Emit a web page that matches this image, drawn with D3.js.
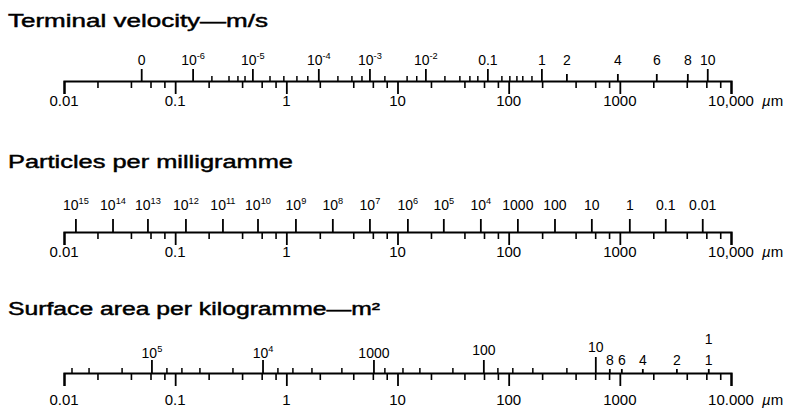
<!DOCTYPE html>
<html>
<head>
<meta charset="utf-8">
<script src="https://cdn.jsdelivr.net/npm/d3@7"></script>
<style>
  body { margin: 0; background: white; }
  text { font-family: "Liberation Sans", Arial, Helvetica, sans-serif; fill: #000; }
</style>
</head>
<body>
<div id="chart"></div>
<script>
// Particle size scale (µm), shared by all three nomograms
const sizeMajor = [0.01, 0.1, 1, 10, 100, 1000, 10000];
const sizeMajorLabels = ["0.01", "0.1", "1", "10", "100", "1000", "10,000"];
const sizeMinor = [0.02, 0.04, 0.06, 0.08, 0.2, 0.4, 0.6, 0.8, 2, 4, 6, 8,
                   20, 40, 60, 80, 200, 400, 600, 800, 2000, 4000, 6000, 8000];

// Terminal velocity (m/s): label and the particle size (µm) it sits at
const velLabels = ["0", "10^-6", "10^-5", "10^-4", "10^-3", "10^-2", "0.1", "1", "2", "4", "6", "8", "10"];
const velAt = [0.050, 0.145, 0.50, 1.96, 5.65, 18.0, 65, 199, 334, 960, 2150, 4090, 6180];
const velMinorAt = [0.214, 0.305, 0.367, 0.425, 0.713, 0.95, 1.245, 1.56, 2.91, 3.89, 4.79, 7.7,
                    12.2, 14.9, 26.7, 36.4, 44.8, 52.8, 86.9, 102.5, 118.6, 134, 162];

// Particles per milligramme
const partLabels = ["10^15", "10^14", "10^13", "10^12", "10^11", "10^10", "10^9", "10^8", "10^7",
                    "10^6", "10^5", "10^4", "1000", "100", "10", "1", "0.1", "0.01"];
const partAt = [0.0128, 0.0276, 0.0569, 0.125, 0.269, 0.556, 1.22, 2.62, 5.65,
                12.4, 26.1, 56.2, 121, 261, 560, 1230, 2590, 5570];

// Surface area per kilogramme (m²)
const surfLabels = ["10^5", "10^4", "1000", "100", "10", "8", "6", "4", "2", "1"];
const surfAt = [0.0618, 0.617, 6.14, 59.8, 608, 813, 1042, 1610, 3260, 6310];
const surfMinorAt = [0.0118, 0.0168, 0.0333, 0.0843, 0.115, 0.167, 0.331, 0.84, 1.146, 1.70,
                     3.16, 7.7, 11.2, 15.9, 31.5, 80, 109, 165, 334];

const width = 793, height = 416;

const svg = d3.select('#chart')
  .append('svg')
  .attr('width', width)
  .attr('height', height)
  .style('background', 'white');

const x = d3.scaleLog().domain([0.01, 10000]).range([64, 731]);

// write "10^-6" style labels with a raised exponent
function writeLabel(text, label, size) {
  const parts = label.split('^');
  text.append('tspan').text(parts[0]);
  if (parts[1]) {
    text.append('tspan')
      .attr('font-size', size * 0.66)
      .attr('dy', -size * 0.4)
      .text(parts[1]);
  }
}

function title(str, y, len) {
  svg.append('text')
    .attr('x', 8)
    .attr('y', y)
    .attr('font-size', 18)
    .attr('textLength', len)
    .attr('lengthAdjust', 'spacingAndGlyphs')
    .attr('stroke', '#000')
    .attr('stroke-width', 0.45)
    .text(str);
}

// the size axis below each line
function sizeAxis(lineY, labelY, lastLabel) {
  const g = svg.append('g').attr('transform', `translate(0,${lineY})`);
  g.call(d3.axisBottom(x).tickValues(sizeMajor).tickSize(13).tickSizeOuter(13).tickFormat(''));
  g.select('.domain').attr('stroke', '#000').attr('stroke-width', 2.2);
  g.selectAll('.tick line').attr('stroke', '#000').attr('stroke-width', 1.8);

  const gm = svg.append('g').attr('transform', `translate(0,${lineY})`);
  gm.call(d3.axisBottom(x).tickValues(sizeMinor).tickSize(7).tickFormat(''));
  gm.select('.domain').remove();
  gm.selectAll('.tick line').attr('stroke', '#000').attr('stroke-width', 1.6);

  svg.append('g').selectAll('text')
    .data(sizeMajor)
    .join('text')
    .attr('x', d => x(d))
    .attr('y', labelY)
    .attr('text-anchor', 'middle')
    .attr('font-size', 15)
    .text((d, i) => i === sizeMajor.length - 1 ? lastLabel : sizeMajorLabels[i]);

  const unit = svg.append('text')
    .attr('x', x(10000) + 31)
    .attr('y', labelY)
    .attr('font-size', 15);
  unit.append('tspan').attr('font-style', 'italic').text('µ');
  unit.append('tspan').text('m');
}

// upward ticks above the line
function topTicks(lineY, values, len, sw) {
  svg.append('g').selectAll('line')
    .data(values)
    .join('line')
    .attr('x1', d => x(d)).attr('x2', d => x(d))
    .attr('y1', lineY)
    .attr('y2', (d, i) => lineY - (typeof len === 'function' ? len(d, i) : len))
    .attr('stroke', '#000')
    .attr('stroke-width', sw || 1.8);
}

function topLabels(values, labels, yFn, size) {
  svg.append('g').selectAll('text')
    .data(values)
    .join('text')
    .attr('x', d => x(d))
    .attr('y', (d, i) => yFn(i))
    .attr('text-anchor', 'middle')
    .attr('font-size', size)
    .each(function(d, i) { writeLabel(d3.select(this), labels[i], size); });
}

// --- Terminal velocity ---
title('Terminal velocity—m/s', 27, 260);
sizeAxis(81, 106, '10,000');
topTicks(81, velMinorAt, 5, 1.5);
topTicks(81, velAt, (d, i) => ['2', '4', '6', '8'].includes(velLabels[i]) ? 7 : 12);
topLabels(velAt, velLabels, () => 65, 14);

// --- Particles per milligramme ---
title('Particles per milligramme', 168, 285);
sizeAxis(232, 257, '10,000');
topTicks(232, partAt, 13);
topLabels(partAt, partLabels, () => 210, 14);

// --- Surface area per kilogramme ---
title('Surface area per kilogramme—m²', 315, 372);
sizeAxis(373, 405, '10.000');
topTicks(373, surfMinorAt, 5, 1.5);
topTicks(373, surfAt, (d, i) => surfLabels[i].length === 1 ? 4 : (surfLabels[i] === '10' ? 16 : 13));
const surfY = i => surfLabels[i].length === 1 ? 365 : (surfLabels[i] === '10' ? 352 : (surfLabels[i] === '100' ? 355 : 358));
topLabels(surfAt, surfLabels, surfY, 14);
svg.append('text')
  .attr('x', x(surfAt[surfAt.length - 1]))
  .attr('y', 344)
  .attr('text-anchor', 'middle')
  .attr('font-size', 14)
  .text('1');
</script>
</body>
</html>
